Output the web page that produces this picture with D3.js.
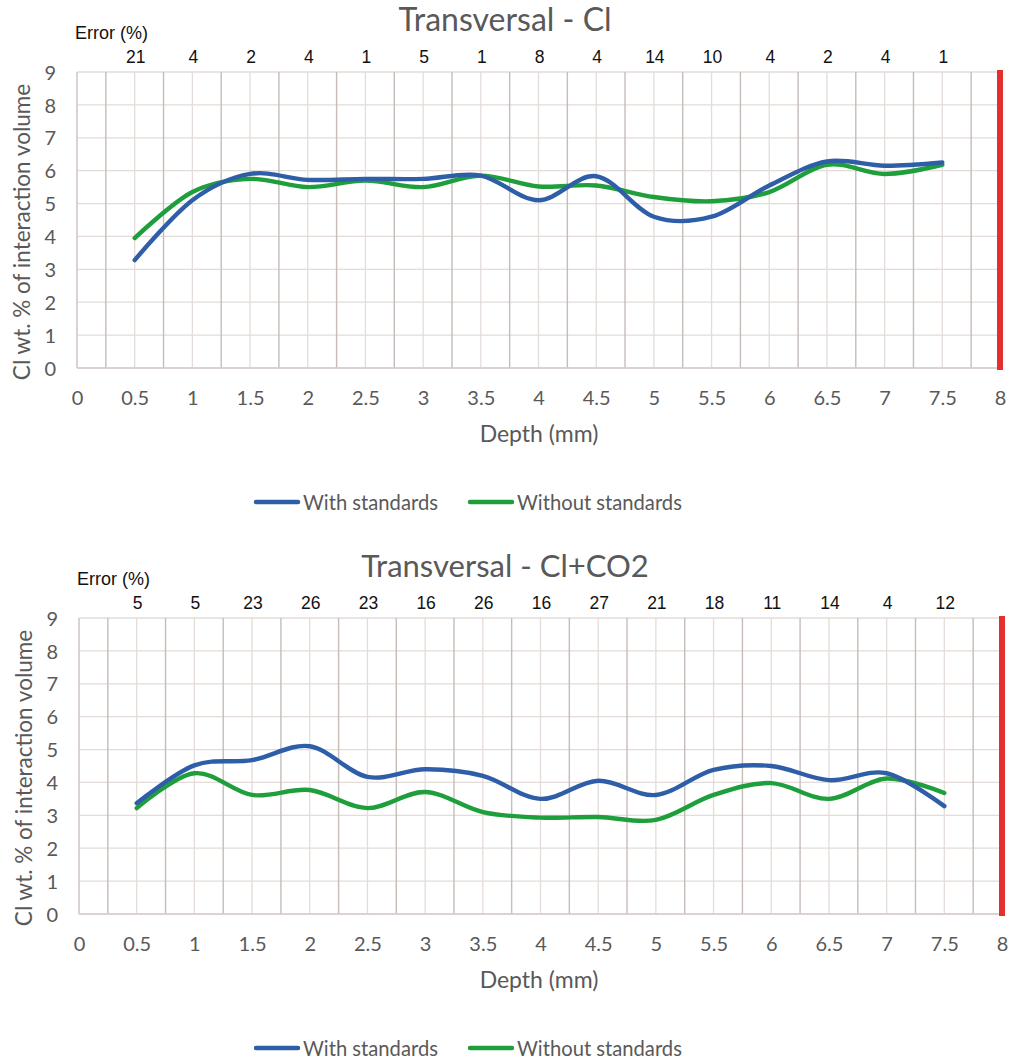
<!DOCTYPE html>
<html>
<head>
<meta charset="utf-8">
<script src="https://cdn.jsdelivr.net/npm/d3@7"></script>
<style>
  html, body { margin: 0; padding: 0; background: #fff; }
  svg { display: block; }
</style>
</head>
<body>
<svg id="chart" width="1010" height="1061"></svg>
<script>
// ---------- data ----------
const depths = [0.5, 1, 1.5, 2, 2.5, 3, 3.5, 4, 4.5, 5, 5.5, 6, 6.5, 7, 7.5];
const xTickLabels = [0, 0.5, 1, 1.5, 2, 2.5, 3, 3.5, 4, 4.5, 5, 5.5, 6, 6.5, 7, 7.5, 8];
const yTickLabels = [0, 1, 2, 3, 4, 5, 6, 7, 8, 9];
const seriesNames = ["With standards", "Without standards"];

// Chart 1: Transversal - Cl
const clWith    = [3.28, 5.1, 5.9, 5.72, 5.75, 5.75, 5.85, 5.1, 5.83, 4.6, 4.6, 5.55, 6.28, 6.15, 6.25];
const clWithout = [3.95, 5.35, 5.75, 5.5, 5.7, 5.5, 5.85, 5.52, 5.55, 5.2, 5.07, 5.35, 6.18, 5.9, 6.18];
const clError   = [21, 4, 2, 4, 1, 5, 1, 8, 4, 14, 10, 4, 2, 4, 1];

// Chart 2: Transversal - Cl+CO2
const co2With    = [3.37, 4.52, 4.68, 5.1, 4.17, 4.4, 4.2, 3.5, 4.05, 3.62, 4.38, 4.5, 4.07, 4.28, 3.28];
const co2Without = [3.22, 4.28, 3.62, 3.77, 3.22, 3.71, 3.1, 2.93, 2.95, 2.86, 3.62, 3.98, 3.5, 4.12, 3.68];
const co2Error   = [5, 5, 23, 26, 23, 16, 26, 16, 27, 21, 18, 11, 14, 4, 12];

const redLineAt = 8;

// ---------- styling ----------
const BLUE = "#2f5ea8";
const GREEN = "#1f9e3c";
const RED = "#e3302e";
const TXT = "#595959";
const GRID_LIGHT = "#e4dcd8";
const GRID_DARK = "#c6bdb9";
const FONT = "Lato, 'Open Sans', sans-serif";
const FONT_ERR = "'Liberation Sans', Arial, sans-serif";

const svg = d3.select("#chart");

function drawChart(cfg) {
  const g = svg.append("g");
  const x = d3.scaleLinear().domain([0, 8]).range([cfg.x0, cfg.x1]);
  const y = d3.scaleLinear().domain([0, 9]).range([cfg.yBottom, cfg.yTop]);

  // horizontal gridlines
  g.append("g").selectAll("line").data(yTickLabels).join("line")
    .attr("x1", x(0)).attr("x2", x(8))
    .attr("y1", d => y(d)).attr("y2", d => y(d))
    .attr("stroke", GRID_LIGHT).attr("stroke-width", 1.3);

  // vertical gridlines every 0.25
  const quarters = d3.range(0, 33).map(i => i * 0.25);
  g.append("g").selectAll("line").data(quarters).join("line")
    .attr("x1", d => x(d)).attr("x2", d => x(d))
    .attr("y1", y(0)).attr("y2", y(9))
    .attr("stroke", (d, i) => (i % 2 === 1) ? GRID_DARK : GRID_LIGHT)
    .attr("stroke-width", (d, i) => (i % 2 === 1) ? 1.4 : 1.3);

  // left axis line
  g.append("line")
    .attr("x1", x(0)).attr("x2", x(0)).attr("y1", y(0)).attr("y2", y(9))
    .attr("stroke", "#d4ccc8").attr("stroke-width", 1.5);
  // bottom axis line
  g.append("line")
    .attr("x1", x(0)).attr("x2", x(8)).attr("y1", y(0)).attr("y2", y(0))
    .attr("stroke", "#d4ccc8").attr("stroke-width", 1.5);

  // red line
  g.append("line")
    .attr("x1", x(redLineAt)).attr("x2", x(redLineAt))
    .attr("y1", y(9) - 2).attr("y2", y(0) + 2)
    .attr("stroke", RED).attr("stroke-width", 6);

  // x axis labels
  const xAxis = d3.axisBottom(x).tickValues(xTickLabels).tickSize(0).tickPadding(0)
    .tickFormat(d => String(d));
  const xa = g.append("g").attr("transform", `translate(0,${cfg.yBottom + 37})`).call(xAxis);
  xa.select(".domain").remove();
  xa.selectAll("text").attr("fill", TXT).style("font-family", FONT).style("font-size", "20px")
    .attr("dy", 0).attr("y", 0);

  // y axis labels
  const yAxis = d3.axisLeft(y).tickValues(yTickLabels).tickSize(0).tickPadding(0);
  const ya = g.append("g").attr("transform", `translate(${cfg.x0 - 21},0)`).call(yAxis);
  ya.select(".domain").remove();
  ya.selectAll("text").attr("fill", TXT).style("font-family", FONT).style("font-size", "20px")
    .attr("dy", "0.36em");

  // lines
  const line = d3.line()
    .x((d, i) => x(depths[i]))
    .y(d => y(d))
    .curve(d3.curveCardinal.tension(0));
  g.append("path").datum(cfg.without).attr("d", line)
    .attr("fill", "none").attr("stroke", GREEN).attr("stroke-width", 4.4)
    .attr("stroke-linecap", "round").attr("stroke-linejoin", "round");
  g.append("path").datum(cfg.with).attr("d", line)
    .attr("fill", "none").attr("stroke", BLUE).attr("stroke-width", 4.4)
    .attr("stroke-linecap", "round").attr("stroke-linejoin", "round");

  // title
  g.append("text").attr("x", 505).attr("y", cfg.yTop - 41)
    .attr("text-anchor", "middle").attr("fill", TXT)
    .style("font-family", FONT).style("font-size", cfg.titleSize)
    .text(cfg.title);

  // error label
  g.append("text").attr("x", cfg.x0 - 2).attr("y", cfg.yTop - 33)
    .attr("fill", "#111").style("font-family", FONT_ERR).style("font-size", "18px")
    .text("Error (%)");
  g.append("g").selectAll("text").data(cfg.error).join("text")
    .attr("x", (d, i) => x(depths[i]) + 1).attr("y", cfg.yTop - 9)
    .attr("text-anchor", "middle").attr("fill", "#111")
    .style("font-family", FONT_ERR).style("font-size", "17.5px")
    .text(d => d);

  // axis titles
  g.append("text")
    .attr("transform", `translate(${cfg.x0 - 47},${(cfg.yTop + cfg.yBottom) / 2 + 12}) rotate(-90)`)
    .attr("text-anchor", "middle").attr("fill", TXT)
    .style("font-family", FONT).style("font-size", "22.5px")
    .text("Cl wt. % of interaction volume");
  g.append("text").attr("x", 539).attr("y", cfg.yBottom + 74)
    .attr("text-anchor", "middle").attr("fill", TXT)
    .style("font-family", FONT).style("font-size", "23px")
    .text("Depth (mm)");

  // legend
  const lg = g.append("g").attr("transform", `translate(0,${cfg.yBottom + 134})`);
  const legendItems = [
    { name: seriesNames[0], color: BLUE, x: 256 },
    { name: seriesNames[1], color: GREEN, x: 470 }
  ];
  legendItems.forEach(it => {
    lg.append("line").attr("x1", it.x).attr("x2", it.x + 42).attr("y1", 0).attr("y2", 0)
      .attr("stroke", it.color).attr("stroke-width", 4.5).attr("stroke-linecap", "round");
    lg.append("text").attr("x", it.x + 47).attr("y", 7.5).attr("fill", TXT)
      .style("font-family", FONT).style("font-size", "20.2px").text(it.name);
  });
}

drawChart({ title: "Transversal - Cl", titleSize: "32px", x0: 77, x1: 1000, yTop: 72, yBottom: 368,
  with: clWith, without: clWithout, error: clError });
drawChart({ title: "Transversal - Cl+CO2", titleSize: "31px", x0: 79, x1: 1002, yTop: 618, yBottom: 914,
  with: co2With, without: co2Without, error: co2Error });
</script>
</body>
</html>
